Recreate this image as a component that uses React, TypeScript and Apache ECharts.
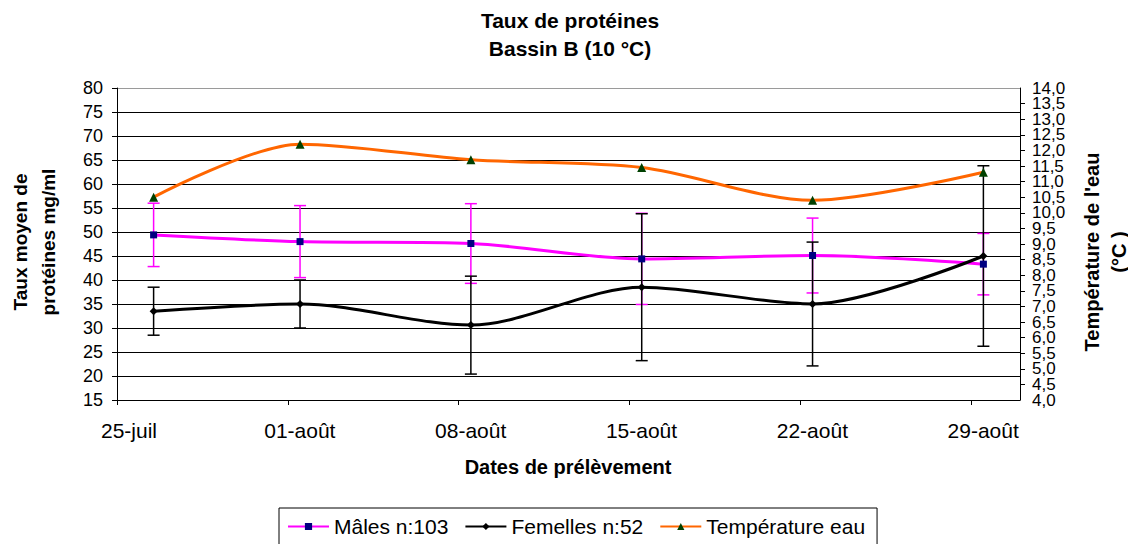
import React, { useEffect, useRef } from 'react';
import * as echarts from 'echarts';

const MONTHS = ['janv', 'févr', 'mars', 'avr', 'mai', 'juin', 'juil', 'août', 'sept', 'oct', 'nov', 'déc'];
const AXIS_START = '2007-07-25';
const AXIS_END = '2007-08-31';
const TICK_DAYS = 7;

const sampleDates = ['2007-07-26', '2007-08-01', '2007-08-08', '2007-08-15', '2007-08-22', '2007-08-29'];
const malesMean = [49.4, 48.0, 47.6, 44.4, 45.1, 43.3];
const malesErr = [6.6, 7.5, 8.3, 9.5, 7.8, 6.4];
const femalesMean = [33.5, 35.0, 30.6, 38.5, 35.0, 45.0];
const femalesErr = [5.0, 5.0, 10.2, 15.3, 12.9, 18.8];
const waterTemp = [10.5, 12.2, 11.7, 11.45, 10.4, 11.3];

const seriesNames = ['Mâles n:103', 'Femelles n:52', 'Température eau'];
const leftAxis = { min: 15, max: 80, interval: 5 };
const rightAxis = { min: 4, max: 14, interval: 0.5 };

const FONT = '"Liberation Sans", Arial, Helvetica, sans-serif';
const DAY = 86400000;
const dayOf = (d: string) => (Date.parse(d) - Date.parse(AXIS_START)) / DAY;
// Excel date axis places a point in the middle of its day slot
const xOf = (d: string) => dayOf(d) + 0.5;

const fmtDate = (v: number) => {
  const dt = new Date(Date.parse(AXIS_START) + v * DAY);
  const dd = String(dt.getUTCDate()).padStart(2, '0');
  return dd + '-' + MONTHS[dt.getUTCMonth()];
};
const fmtTemp = (v: number) => v.toFixed(1).replace('.', ',');
const isWhole = (v: number) => Math.abs(v - Math.round(v)) < 1e-6;

const errorBar = (color: string) => (params: any, api: any) => {
  const x = api.value(0);
  const lo = api.value(1);
  const hi = api.value(2);
  const top = api.coord([x, hi]);
  const bot = api.coord([x, lo]);
  const hw = 6;
  const style = { stroke: color, lineWidth: 1.5 };
  return {
    type: 'group',
    children: [
      { type: 'line', shape: { x1: top[0], y1: top[1], x2: bot[0], y2: bot[1] }, style },
      { type: 'line', shape: { x1: top[0] - hw, y1: top[1], x2: top[0] + hw, y2: top[1] }, style },
      { type: 'line', shape: { x1: bot[0] - hw, y1: bot[1], x2: bot[0] + hw, y2: bot[1] }, style },
    ],
  };
};

export default function App() {
  const ref = useRef<HTMLDivElement>(null);

  useEffect(() => {
    if (!ref.current) return;
    const chart = echarts.init(ref.current, null, { renderer: 'svg' });

    const xs = sampleDates.map(xOf);
    const maleData = xs.map((x, i) => [x, malesMean[i]]);
    const femaleData = xs.map((x, i) => [x, femalesMean[i]]);
    const tempData = xs.map((x, i) => [x, waterTemp[i]]);
    const maleErrData = xs.map((x, i) => [x, malesMean[i] - malesErr[i], malesMean[i] + malesErr[i]]);
    const femaleErrData = xs.map((x, i) => [x, femalesMean[i] - femalesErr[i], femalesMean[i] + femalesErr[i]]);

    const nGrid = Math.round((leftAxis.max - leftAxis.min) / leftAxis.interval) + 1;
    const gridColors = Array.from({ length: nGrid }, (_, i) => (i === nGrid - 1 ? '#9a9a9a' : '#000000'));

    const rightLabel = {
      margin: 12,
      fontSize: 17,
      color: '#000',
      fontFamily: FONT,
      hideOverlap: false,
    };

    chart.setOption({
      animation: false,
      textStyle: { fontFamily: FONT },
      grid: { left: 117, right: 108, top: 88, bottom: 144, containLabel: false },
      legend: {
        data: seriesNames,
        left: 279,
        top: 508,
        orient: 'horizontal',
        padding: [8, 12, 20, 8],
        itemGap: 16,
        itemWidth: 41,
        itemHeight: 9,
        borderColor: '#000',
        borderWidth: 1,
        textStyle: { fontSize: 21, color: '#000', fontFamily: FONT },
      },
      graphic: [
        {
          type: 'text',
          x: 570,
          y: 34,
          style: {
            text: 'Taux de protéines\nBassin B (10 °C)',
            font: 'bold 21px ' + FONT,
            fill: '#000',
            textAlign: 'center',
            textVerticalAlign: 'middle',
            lineHeight: 28,
          },
        },
        {
          type: 'text',
          x: 568,
          y: 467,
          style: {
            text: 'Dates de prélèvement',
            font: 'bold 20px ' + FONT,
            fill: '#000',
            textAlign: 'center',
            textVerticalAlign: 'middle',
          },
        },
        {
          type: 'text',
          x: 34,
          y: 242,
          rotation: Math.PI / 2,
          style: {
            text: 'Taux moyen de\nprotéines mg/ml',
            font: 'bold 19px ' + FONT,
            fill: '#000',
            textAlign: 'center',
            textVerticalAlign: 'middle',
            lineHeight: 28,
          },
        },
        {
          type: 'text',
          x: 1105,
          y: 252,
          rotation: Math.PI / 2,
          style: {
            text: "Température de l'eau\n(°C )",
            font: 'bold 20px ' + FONT,
            fill: '#000',
            textAlign: 'center',
            textVerticalAlign: 'middle',
            lineHeight: 27,
          },
        },
      ],
      xAxis: {
        type: 'value',
        min: 0,
        max: dayOf(AXIS_END),
        interval: TICK_DAYS,
        axisLine: { show: true, lineStyle: { color: '#000', width: 1 } },
        axisTick: { show: true, length: 5, lineStyle: { color: '#000' } },
        splitLine: { show: false },
        axisLabel: {
          showMaxLabel: false,
          margin: 20,
          fontSize: 21,
          color: '#000',
          fontFamily: FONT,
          padding: [0, 0, 0, 24],
          formatter: (v: number) => (Math.abs(v % TICK_DAYS) < 1e-6 ? fmtDate(v) : ''),
        },
      },
      yAxis: [
        {
          type: 'value',
          position: 'left',
          min: leftAxis.min,
          max: leftAxis.max,
          interval: leftAxis.interval,
          axisLine: { show: true, lineStyle: { color: '#000', width: 1 } },
          axisTick: { show: true, length: 5, lineStyle: { color: '#000' } },
          splitLine: { show: true, lineStyle: { color: gridColors, width: 1 } },
          axisLabel: { margin: 14, fontSize: 18, color: '#000', fontFamily: FONT },
        },
        {
          // temperature axis: whole-degree labels
          type: 'value',
          position: 'right',
          min: rightAxis.min,
          max: rightAxis.max,
          interval: rightAxis.interval * 2,
          axisLine: { show: false },
          axisTick: { show: false },
          splitLine: { show: false },
          axisLabel: { ...rightLabel, showMinLabel: true, showMaxLabel: true, formatter: fmtTemp },
        },
        {
          // same scale: half-degree ticks and labels
          type: 'value',
          position: 'right',
          min: rightAxis.min,
          max: rightAxis.max,
          interval: rightAxis.interval,
          axisLine: { show: true, lineStyle: { color: '#000', width: 1 } },
          axisTick: { show: true, length: 5, lineStyle: { color: '#000' } },
          splitLine: { show: false },
          axisLabel: {
            ...rightLabel,
            showMinLabel: false,
            showMaxLabel: false,
            formatter: (v: number) => (isWhole(v) ? '' : fmtTemp(v)),
          },
        },
      ],
      series: [
        {
          type: 'custom',
          name: 'errM',
          xAxisIndex: 0,
          yAxisIndex: 0,
          renderItem: errorBar('#FF00FF'),
          encode: { x: 0, y: [1, 2] },
          data: maleErrData,
          silent: true,
        },
        {
          type: 'custom',
          name: 'errF',
          xAxisIndex: 0,
          yAxisIndex: 0,
          renderItem: errorBar('#000000'),
          encode: { x: 0, y: [1, 2] },
          data: femaleErrData,
          silent: true,
        },
        {
          type: 'line',
          name: seriesNames[0],
          yAxisIndex: 0,
          data: maleData,
          smooth: 0.3,
          symbol: 'rect',
          symbolSize: 7,
          showAllSymbol: true,
          lineStyle: { color: '#FF00FF', width: 3 },
          itemStyle: { color: '#000080', borderWidth: 0 },
        },
        {
          type: 'line',
          name: seriesNames[1],
          yAxisIndex: 0,
          data: femaleData,
          smooth: 0.3,
          symbol: 'diamond',
          symbolSize: 8,
          lineStyle: { color: '#000000', width: 3 },
          itemStyle: { color: '#000000', borderWidth: 0 },
        },
        {
          type: 'line',
          name: seriesNames[2],
          yAxisIndex: 1,
          data: tempData,
          smooth: 0.3,
          symbol: 'triangle',
          symbolSize: 9,
          lineStyle: { color: '#FF6600', width: 3 },
          itemStyle: { color: '#004000', borderWidth: 0 },
        },
      ],
    });

    return () => chart.dispose();
  }, []);

  return (
    <div
      ref={ref}
      style={{ position: 'fixed', left: 0, top: 0, width: 1128, height: 544, background: '#fff' }}
    />
  );
}
